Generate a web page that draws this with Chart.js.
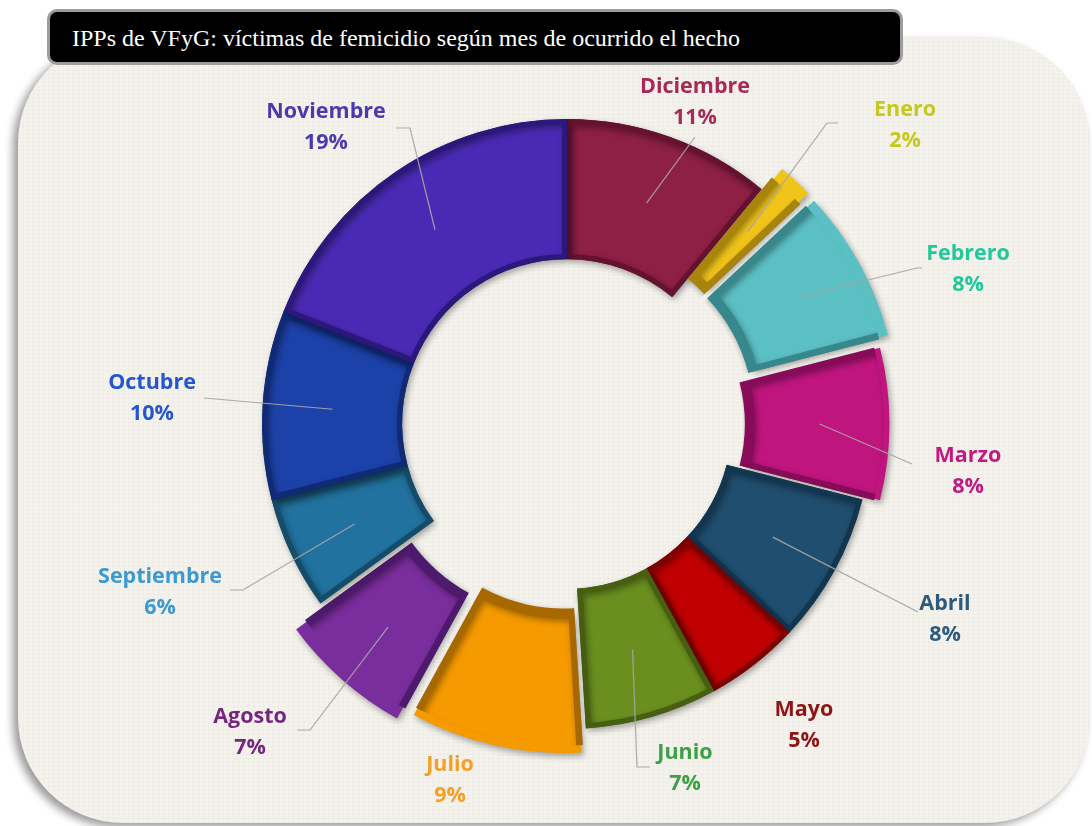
<!DOCTYPE html>
<html>
<head>
<meta charset="utf-8">
<script src="https://cdn.jsdelivr.net/npm/chart.js@4"></script>
<style>
  html, body { margin:0; padding:0; background:#ffffff; }
  #wrap { position:relative; width:1092px; height:826px; overflow:hidden; background:#ffffff; }
  #panel {
    position:absolute; left:18px; top:38px; width:1072px; height:785px;
    border-radius:105px;
    background-color:#F4F2EC;
    background-image:
      repeating-linear-gradient(0deg, rgba(120,110,90,0.035) 0 1px, transparent 1px 4px),
      repeating-linear-gradient(90deg, rgba(120,110,90,0.03) 0 1px, transparent 1px 5px);
    box-shadow: -5px 4px 9px rgba(0,0,0,0.4);
  }
  #title {
    position:absolute; left:47px; top:9px; width:828px; height:50px;
    background:#000; border:3px solid #9c9c9c; border-radius:10px;
    color:#fff; font-family:"Liberation Serif","Times New Roman",serif; font-size:24px;
    line-height:52px; padding-left:22px; box-sizing:content-box; white-space:nowrap;
  }
  #c { position:absolute; left:0; top:0; }
</style>
</head>
<body>
<div id="wrap">
  <div id="panel"></div>
  <div id="title">IPPs de VFyG: víctimas de femicidio según mes de ocurrido el hecho</div>
  <canvas id="c" width="1092" height="826"></canvas>
</div>
<script>
// ---- data ----
const months = ["Diciembre","Enero","Febrero","Marzo","Abril","Mayo","Junio","Julio","Agosto","Septiembre","Octubre","Noviembre"];
const percents = [11, 2, 8, 8, 8, 5, 7, 9, 7, 6, 10, 19];

// ---- styles ----
const sliceColors  = ["#8E1F45","#F0C419","#5BC0C4","#C0157F","#1F4E6F","#C00000","#6A8F1F","#F59A00","#7A2D9C","#21729E","#1C41A8","#4A2AB4"];
const sliceBorders = ["#651230","#A8840A","#37888C","#860B58","#123550","#7E0000","#465F10","#A86800","#4E1A6E","#144C6C","#102A78","#2C187C"];
const labelColors  = ["#A8285A","#C6C81E","#22C89A","#C01A80","#2B5B7E","#8E1515","#3DA046","#F5A023","#76267F","#3B9AD2","#2356D0","#4B3AAE"];
const explode      = [0, 62, 76, 47, 0, 0, 0, 68, 91, 0, 0, 0];

// label layout: text centre x, name-line y, and leader elbow/end points
const labelLayout = [
  {x:695, y:87,  pts:[[695,137]]},
  {x:905, y:110, pts:[[827,123],[838,123]]},
  {x:968, y:254, pts:[[917,268],[922,268]]},
  {x:968, y:456, pts:[[912,464]]},
  {x:945, y:604, pts:[[918,612]]},
  {x:804, y:710, pts:null},
  {x:685, y:753, pts:[[637,767],[650,767]]},
  {x:450, y:765, pts:null},
  {x:250, y:717, pts:[[310,730],[297,730]]},
  {x:160, y:577, pts:[[243,590],[230,590]]},
  {x:152, y:383, pts:[[204,398]]},
  {x:326, y:112, pts:[[410,128],[396,128]]}
];

const labelsPlugin = {
  id:'sliceLabels',
  afterDatasetsDraw(chart){
    const ctx = chart.ctx;
    const meta = chart.getDatasetMeta(0);
    ctx.save();
    meta.data.forEach((el, i) => {
      const p = el.getProps(['x','y','startAngle','endAngle','innerRadius','outerRadius','circumference'], true);
      const mid = (p.startAngle + p.endAngle) / 2;
      const o = (el.options.offset || 0) / 4;
      const fix = 1 - Math.sin(Math.min(Math.PI, p.circumference || 0));
      const r = (p.innerRadius + p.outerRadius) / 2 + o * (1 + fix);
      const sx = p.x + Math.cos(mid) * r;
      const sy = p.y + Math.sin(mid) * r;
      const L = labelLayout[i];
      if (L.pts) {
        ctx.beginPath();
        ctx.moveTo(sx, sy);
        L.pts.forEach(q => ctx.lineTo(q[0], q[1]));
        ctx.strokeStyle = 'rgba(165,165,165,0.95)';
        ctx.lineWidth = 1.2;
        ctx.stroke();
      }
      ctx.fillStyle = labelColors[i];
      ctx.font = 'bold 21.5px "Open Sans", "Lato", sans-serif';
      ctx.textAlign = 'center';
      ctx.textBaseline = 'middle';
      ctx.fillText(months[i], L.x, L.y);
      ctx.fillText(percents[i] + '%', L.x, L.y + 31);
    });
    ctx.restore();
  }
};

const shadowPlugin = {
  id:'sliceShadow',
  beforeDatasetsDraw(chart){
    const ctx = chart.ctx;
    ctx.save();
    ctx.shadowColor = 'rgba(0,0,0,0.35)';
    ctx.shadowBlur = 6;
    ctx.shadowOffsetX = 2;
    ctx.shadowOffsetY = 3;
  },
  afterDatasetsDraw(chart){
    chart.ctx.restore();
  }
};

new Chart(document.getElementById('c'), {
  type:'doughnut',
  data:{
    labels: months,
    datasets:[{
      data: percents,
      backgroundColor: sliceColors,
      borderColor: sliceBorders,
      borderWidth: 5,
      borderAlign: 'inner',
      borderJoinStyle: 'miter',
      offset: explode
    }]
  },
  options:{
    responsive:false,
    animation:false,
    devicePixelRatio:1,
    radius:305,
    cutout:'54%',
    rotation:0,
    layout:{ padding:{ left:42, right:0, top:22, bottom:0 } },
    plugins:{ legend:{display:false}, tooltip:{enabled:false}, title:{display:false} }
  },
  plugins:[shadowPlugin, labelsPlugin]
});
</script>
</body>
</html>
